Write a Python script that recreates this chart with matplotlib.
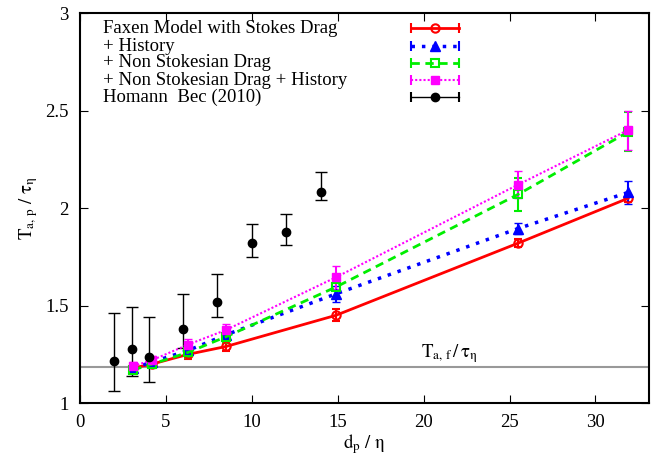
import numpy as np
import matplotlib.pyplot as plt

plt.rcParams['font.family'] = ['Liberation Serif', 'DejaVu Serif']
plt.rcParams['mathtext.fontset'] = 'stix'

# particle diameters used in the model runs
dp = [3.1, 4.2, 6.3, 8.5, 14.9, 25.5, 31.9]

faxen = [1.18, 1.20, 1.25, 1.29, 1.45, 1.82, 2.05]
faxen_err = [0.02, 0.02, 0.025, 0.025, 0.03, 0.02, 0.02]

hist = [1.18, 1.21, 1.27, 1.35, 1.56, 1.895, 2.08]
hist_err = [0.02, 0.02, 0.025, 0.025, 0.04, 0.03, 0.06]

nonstokes = [1.17, 1.20, 1.26, 1.34, 1.595, 2.07, 2.39]
nonstokes_err = [0.02, 0.02, 0.03, 0.03, 0.05, 0.085, 0.10]

nonstokes_hist = [1.19, 1.22, 1.30, 1.375, 1.645, 2.12, 2.40]
nonstokes_hist_err = [0.02, 0.02, 0.03, 0.03, 0.06, 0.07, 0.10]

# Homann & Bec (2010)
hb_x = [2, 3, 4, 6, 8, 10, 12, 14]
hb_y = [1.215, 1.277, 1.236, 1.38, 1.52, 1.82, 1.877, 2.08]
hb_lo = [1.06, 1.14, 1.11, 1.28, 1.44, 1.75, 1.81, 2.04]
hb_hi = [1.46, 1.49, 1.44, 1.56, 1.66, 1.92, 1.97, 2.185]

taf = 1.185

labels = ['Faxen Model with Stokes Drag', '+ History', '+ Non Stokesian Drag',
          '+ Non Stokesian Drag + History', 'Homann  Bec (2010)']

fig = plt.figure(figsize=(6.64, 4.58), dpi=100)
ax = fig.add_axes([0.1205, 0.120, 0.977 - 0.1205, 0.9716 - 0.120])

ax.axhline(taf, color='#999999', lw=1.5, zorder=1)
ax.text(21.5, taf + 0.01, r'$\mathrm{T_{a,\,f}\,/\,\tau_\eta}$', ha='center', va='bottom', fontsize=13.5)

styles = [
    dict(color='red', lw=2, ls='-', marker='o', mfc='none', mec='red', mew=1.5, ms=6),
    dict(color='blue', lw=2.5, ls=(0, (1, 2)), marker='^', ms=7),
    dict(color='#00ee00', lw=2, ls=(0, (3, 2)), marker='s', mfc='none', mec='#00ee00', mew=1.5, ms=6),
    dict(color='magenta', lw=1.5, ls=(0, (1, 1)), marker='s', ms=6),
]
series = [(faxen, faxen_err), (hist, hist_err), (nonstokes, nonstokes_err),
          (nonstokes_hist, nonstokes_hist_err)]

for (yv, ye), st in zip(series, styles):
    ax.errorbar(dp, yv, yerr=ye, capsize=3, elinewidth=1.5, **st)

hb_err = [np.array(hb_y) - np.array(hb_lo), np.array(hb_hi) - np.array(hb_y)]
ax.errorbar(hb_x, hb_y, yerr=hb_err, color='black', ls='none', marker='o', ms=6,
            capsize=4, elinewidth=1)

# gnuplot style key: text on the left, sample on the right
row_y = [0.9615, 0.915, 0.872, 0.828, 0.785]
x0, x1, xm = 0.582, 0.666, 0.624
key_styles = styles + [dict(color='black', lw=1, ls='-', marker='o', ms=6)]
for lab, yy, st in zip(labels, row_y, key_styles):
    ax.text(0.04, yy, lab, transform=ax.transAxes, ha='left', va='center', fontsize=13.5)
    ax.plot([x0, x1], [yy, yy], transform=ax.transAxes, color=st['color'], lw=st['lw'],
            ls=st['ls'], clip_on=False)
    ax.plot([x0, x1], [yy, yy], transform=ax.transAxes, color=st['color'], ls='none',
            marker='|', ms=7, mew=1.5, clip_on=False)
    mk = {k: v for k, v in st.items() if k not in ('lw', 'ls')}
    ax.plot([xm], [yy], transform=ax.transAxes, ls='none', clip_on=False, **mk)

ax.set_xlim(0, 33.1)
ax.set_ylim(1, 3)
ax.set_xticks([0, 5, 10, 15, 20, 25, 30])
ax.set_yticks([1, 1.5, 2, 2.5, 3])
ax.set_yticklabels(['1', '1.5', '2', '2.5', '3'])
ax.tick_params(direction='in', top=True, right=True, length=6, labelsize=13.5, pad=8)
for s in ax.spines.values():
    s.set_linewidth(1.5)

ax.set_xlabel(r'$\mathrm{d_p\ /\ \eta}$', fontsize=13.5, labelpad=1)
ax.set_ylabel(r'$\mathrm{T_{a,\,p}\ /\ \tau_\eta}$', fontsize=13.5)

fig.savefig('out.png', dpi=100)
